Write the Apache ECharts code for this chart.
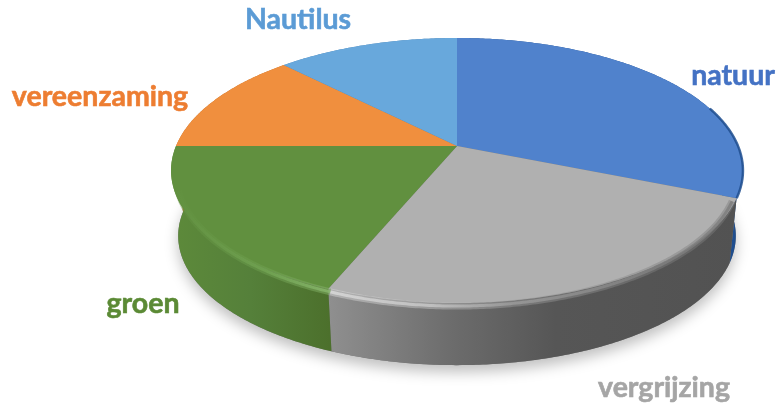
<!DOCTYPE html>
<html>
<head>
<meta charset="utf-8">
<style>
html, body { margin: 0; padding: 0; background: #fff; }
#pie3d { width: 778px; height: 405px; filter: blur(0.5px); }
</style>
<script src="https://cdn.jsdelivr.net/npm/echarts@6/dist/echarts.min.js"></script>
</head>
<body>
<div id="pie3d"></div>
<script>
// values, in % of the pie, clockwise from 12 o'clock
var categories = ['natuur', 'vergrijzing', 'groen', 'vereenzaming', 'Nautilus'];
var shares = [31.2, 25, 18.8, 12.7, 12.3];

var topColors = ['#5082cc', '#b0b0b0', '#61903f', '#f08f3e', '#68a8dc'];
var textColors = ['#4472c4', '#a5a5a5', '#5b8a35', '#ed7d31', '#5b9bd5'];
var wallStops = [
    [[0, '#1f4e8f'], [1, '#1f4e8f']],
    [[0, '#8f8f8f'], [0.3, '#6c6c6c'], [0.55, '#565656'], [1, '#525252']],
    [[0, '#5d8a3a'], [0.5, '#55803a'], [1, '#4c702c']],
    [[0, '#b86a28'], [1, '#b86a28']],
    [[0, '#4a80b0'], [1, '#4a80b0']]
];
var rimStops = [
    [[0, '#1f4e8f'], [1, '#1f4e8f']],
    [[0, '#dcdcdc'], [0.25, '#c8c8c8'], [0.45, '#9c9c9c'], [0.8, '#808080'], [1, '#7c7c7c']],
    [[0, '#61903f'], [0.6, '#72a453'], [1, '#8ab96f']],
    [[0, '#f08f3e'], [1, '#f08f3e']],
    [[0, '#68a8dc'], [1, '#68a8dc']]
];
// x ranges the gradients above run over
var wallRanges = [[700, 745], [329, 740], [171, 330], [170, 290], [285, 457]];

var labelSpots = [
    { x: 733, y: 76 }, { x: 664, y: 388 }, { x: 143, y: 304 }, { x: 100, y: 97 }, { x: 298, y: 20 }
];

// perspective camera of the pie: centre of the disc, half sizes, tilt
var cam = { x: 457, y: 146, a: 281, b: 128, k: 0.185 };
var depth = { dy: 66, scale: 0.975 };

function project(theta, floor) {
    var u = Math.sin(theta);
    var v = -Math.cos(theta);
    var w = 1 - cam.k * v;
    var s = floor ? depth.scale : 1;
    return [
        cam.x + s * cam.a * u / w,
        cam.y + (floor ? depth.dy : 0) + s * cam.b * v / w
    ];
}

function arc(from, to, floor) {
    var pts = [];
    var steps = Math.max(2, Math.ceil((to - from) / 0.01));
    for (var i = 0; i <= steps; i++) {
        pts.push(project(from + (to - from) * i / steps, floor));
    }
    return pts;
}

// pull the rim a little inside the top face so it never sticks out at the sides
function inset(pts, dy) {
    return pts.map(function (p) {
        return [cam.x + (p[0] - cam.x) * 0.984, p[1] + dy];
    });
}

function hGradient(range, stops) {
    return new echarts.graphic.LinearGradient(range[0], 0, range[1], 0, stops.map(function (s) {
        return { offset: s[0], color: s[1] };
    }), true);
}

var total = shares.reduce(function (a, b) { return a + b; }, 0);

function renderSlice(params, api) {
    var i = params.dataIndex;
    var before = 0;
    for (var j = 0; j < i; j++) before += shares[j];
    var from = before / total * Math.PI * 2;
    var to = from + api.value(0) / total * Math.PI * 2;

    var children = [];
    // side wall
    children.push({
        type: 'polygon',
        z2: 2,
        shape: { points: arc(from, to, false).concat(arc(from, to, true).reverse()) },
        style: { fill: hGradient(wallRanges[i], wallStops[i]) }
    });
    // top face
    children.push({
        type: 'polygon',
        z2: 4,
        shape: { points: [[cam.x, cam.y]].concat(arc(from, to, false)) },
        style: { fill: topColors[i] }
    });
    var rimColor = hGradient(wallRanges[i], rimStops[i]);
    if (i === 0) {
        // the first slice only shows a dark edge where it turns away on the right
        children.push({
            type: 'polyline',
            z2: 5,
            shape: { points: arc(Math.PI * 0.4, to, false) },
            style: { fill: null, stroke: rimColor, lineWidth: 2.5, opacity: 0.85 }
        });
        return { type: 'group', children: children };
    }
    // soft bevel on the front edge only, a wide faint stroke under a narrow one
    var a = Math.max(from, Math.PI * 0.58);
    var b = Math.min(to, Math.PI * 1.4);
    if (b > a) {
        var rimPts = inset(arc(a, b, false), 3);
        children.push({
            type: 'polyline',
            z2: 5,
            shape: { points: rimPts },
            style: { fill: null, stroke: rimColor, lineWidth: 7, opacity: 0.45 }
        });
        children.push({
            type: 'polyline',
            z2: 6,
            shape: { points: rimPts },
            style: { fill: null, stroke: rimColor, lineWidth: 3, opacity: 0.8 }
        });
    }
    return { type: 'group', children: children };
}

function renderShadow() {
    return {
        type: 'polygon',
        z2: 1,
        shape: { points: arc(0, Math.PI * 2, true) },
        style: {
            fill: '#777',
            shadowBlur: 14,
            shadowOffsetY: 7,
            shadowColor: 'rgba(0,0,0,0.25)'
        }
    };
}

var labels = categories.map(function (name, i) {
    return {
        type: 'text',
        x: labelSpots[i].x,
        y: labelSpots[i].y,
        style: {
            text: name,
            fill: textColors[i],
            stroke: textColors[i],
            lineWidth: 0.6,
            font: 'bold 28.5px Lato, "Open Sans", sans-serif',
            align: 'center',
            verticalAlign: 'middle'
        }
    };
});

echarts.init(document.getElementById('pie3d')).setOption({
    animation: false,
    backgroundColor: '#fff',
    graphic: { elements: labels },
    series: [
        {
            type: 'custom',
            coordinateSystem: 'none',
            silent: true,
            z: 1,
            data: [0],
            renderItem: renderShadow
        },
        {
            type: 'custom',
            coordinateSystem: 'none',
            silent: true,
            z: 2,
            data: shares,
            renderItem: renderSlice
        }
    ]
});
</script>
</body>
</html>
